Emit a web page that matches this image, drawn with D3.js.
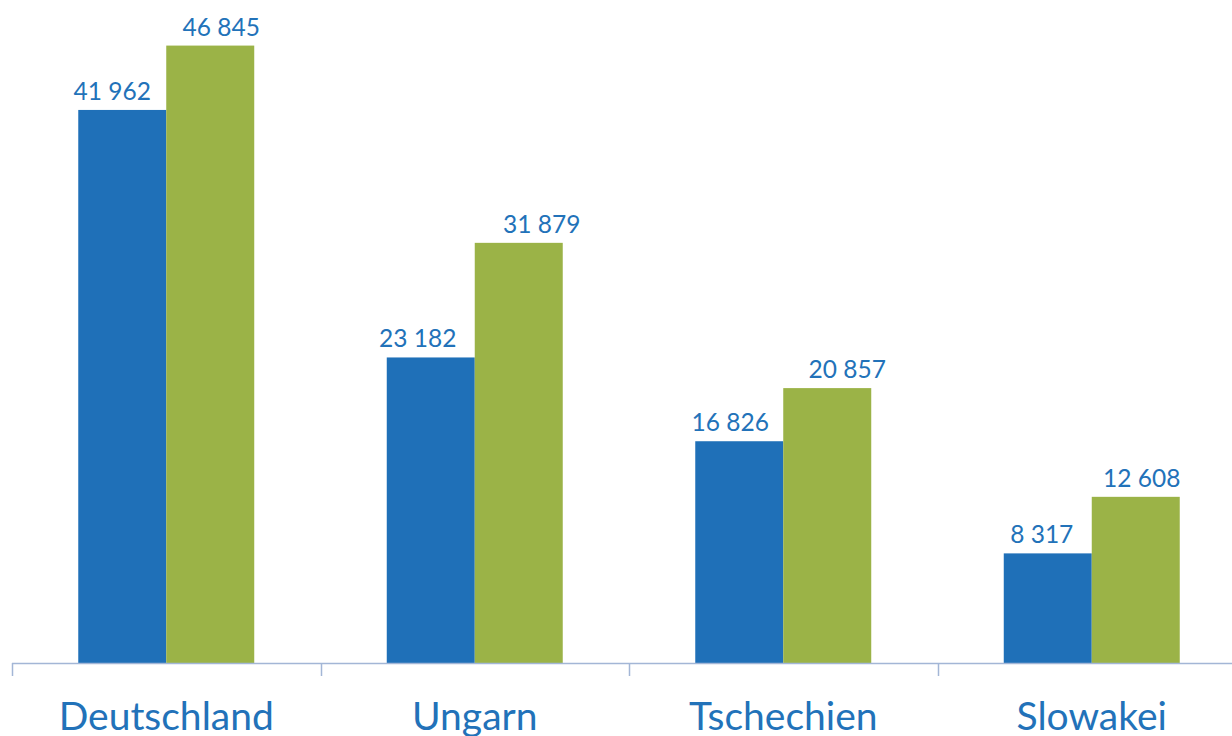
<!DOCTYPE html>
<html><head><meta charset="utf-8">
<script src="https://cdn.jsdelivr.net/npm/d3@7"></script>
<style>html,body{margin:0;padding:0;background:#fff;}svg{display:block;}</style>
</head><body>
<svg id="chart" width="1232" height="736"></svg>
<script>
const categories = ["Deutschland", "Ungarn", "Tschechien", "Slowakei"];
const seriesNames = ["Serie 1", "Serie 2"];
const series1 = [41962, 23182, 16826, 8317];
const series2 = [46845, 31879, 20857, 12608];
const labelText1 = ["41 962", "23 182", "16 826", "8 317"];
const labelText2 = ["46 845", "31 879", "20 857", "12 608"];

// layout
const W = 1232, H = 736;
const baseY = 663;
const colors = ["#1f70b8", "#9bb347"];
const labelColor = "#2272b9";
const labelNudge = [[-10, 11], [-13, 23], [-9, 20], [-6, 6]];

const svg = d3.select("#chart");
const x = d3.scaleBand().domain(categories).range([12, 1246]).paddingInner(0).paddingOuter(0);
const xs = d3.scaleBand().domain(seriesNames).range([0, x.bandwidth()]).paddingInner(0).paddingOuter(0.753);
const y = d3.scaleLinear().domain([0, 50000]).range([baseY, 4]);

const data = categories.map((c, i) => ({
  cat: c, i,
  vals: [
    {s: seriesNames[0], v: series1[i], t: labelText1[i], k: 0},
    {s: seriesNames[1], v: series2[i], t: labelText2[i], k: 1}
  ]
}));

const g = svg.selectAll("g.cat").data(data).join("g")
  .attr("class", "cat")
  .attr("transform", d => `translate(${x(d.cat)},0)`);

g.selectAll("rect").data(d => d.vals).join("rect")
  .attr("x", d => xs(d.s))
  .attr("y", d => y(d.v))
  .attr("width", xs.bandwidth())
  .attr("height", d => y(0) - y(d.v))
  .attr("fill", d => colors[d.k]);

g.selectAll("text.val").data(d => d.vals.map(v => ({...v, i: d.i}))).join("text")
  .attr("class", "val")
  .attr("x", d => xs(d.s) + xs.bandwidth() / 2 + labelNudge[d.i][d.k])
  .attr("y", d => y(d.v) - 10)
  .attr("text-anchor", "middle")
  .attr("font-family", "Lato, 'Open Sans', sans-serif")
  .attr("font-size", 24.5)
  .attr("fill", labelColor)
  .text(d => d.t);

// axis
const ax = svg.append("g").attr("transform", `translate(0,${baseY})`);
ax.append("line").attr("x1", 12).attr("x2", 1246).attr("y1", 0.5).attr("y2", 0.5)
  .attr("stroke", "#a3b6d6").attr("stroke-width", 1.5);
ax.selectAll("line.tick").data(categories).join("line")
  .attr("class", "tick")
  .attr("x1", d => Math.round(x(d)) + 0.5).attr("x2", d => Math.round(x(d)) + 0.5)
  .attr("y1", 0).attr("y2", 13)
  .attr("stroke", "#a3b6d6").attr("stroke-width", 1.5);

svg.append("g").selectAll("text.cat").data(categories).join("text")
  .attr("class", "cat")
  .attr("x", d => x(d) + x.bandwidth() / 2)
  .attr("y", 730)
  .attr("text-anchor", "middle")
  .attr("font-family", "Lato, 'Open Sans', sans-serif")
  .attr("font-size", 39)
  .attr("fill", labelColor)
  .text(d => d);
</script>
</body></html>
